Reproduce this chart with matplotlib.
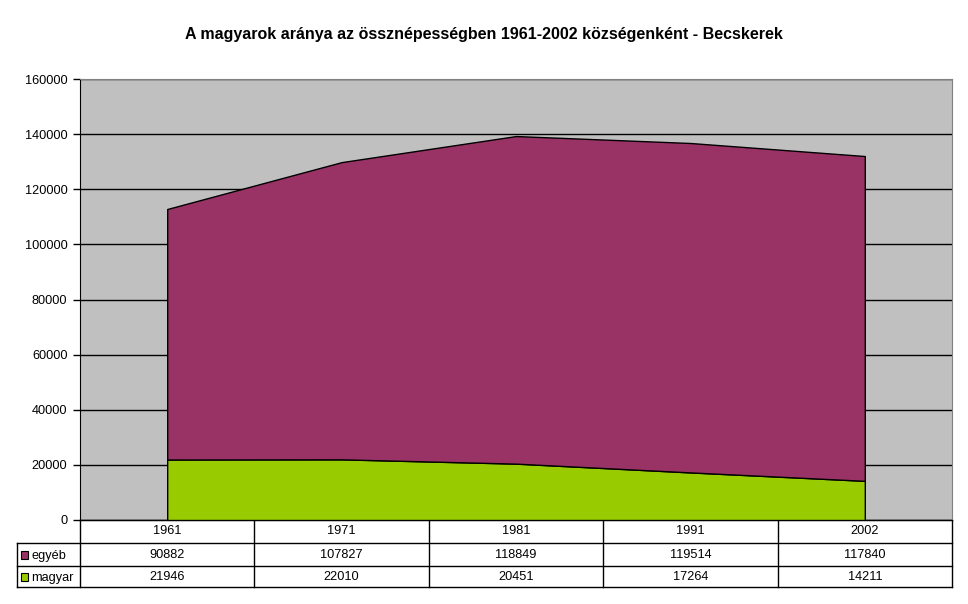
import numpy as np
import matplotlib.pyplot as plt
from matplotlib.patches import Rectangle
from matplotlib.transforms import blended_transform_factory

plt.rcParams['font.family'] = ['Liberation Sans', 'DejaVu Sans']

# data
years = ['1961', '1971', '1981', '1991', '2002']
egyeb = [90882, 107827, 118849, 119514, 117840]
magyar = [21946, 22010, 20451, 17264, 14211]
series_names = ['egyéb', 'magyar']
colors = {'egyéb': '#993366', 'magyar': '#99CC00'}

W, H = 968, 604
fig = plt.figure(figsize=(W / 100, H / 100), dpi=100)
fig.patch.set_facecolor('white')

# plot area in pixels
left, right, top, bottom = 80, 952, 79, 520
ax = fig.add_axes([left / W, (H - bottom) / H, (right - left) / W, (bottom - top) / H])
ax.set_facecolor('#C0C0C0')

x = np.arange(len(years))
ax.stackplot(x, magyar, egyeb, colors=[colors['magyar'], colors['egyéb']],
             edgecolor='black', linewidth=1, zorder=3)

ax.set_xlim(-0.5, len(years) - 0.5)
ax.set_ylim(0, 160000)
ax.set_yticks(np.arange(0, 160001, 20000))
ax.yaxis.grid(True, color='black', linewidth=1, zorder=1)
ax.set_axisbelow(True)
ax.tick_params(axis='y', direction='out', length=5, width=1, labelsize=9.2, pad=4)
ax.set_xticks([])
for s in ['top', 'right']:
    ax.spines[s].set_color('#808080')
ax.spines['left'].set_color('black')
ax.spines['bottom'].set_color('black')

fig.text(0.5, 1 - 35 / H, 'A magyarok aránya az össznépességben 1961-2002 községenként - Becskerek',
         ha='center', va='center', fontsize=11.5, fontweight='bold')

# data table below the plot
trans = blended_transform_factory(ax.transData, ax.transAxes)
ph = bottom - top
colw = (right - left) / len(years)   # pixels per category
row_edges_px = [0, 23, 46, 67]
row_y = [-r / ph for r in row_edges_px]
label_x = -0.5 - (left - 17) / colw
xr = len(years) - 0.5
line_kw = dict(color='black', linewidth=1, transform=trans, clip_on=False)

# horizontal lines
ax.plot([-0.5, xr], [row_y[0]] * 2, **line_kw)
for yy in row_y[1:]:
    ax.plot([label_x, xr], [yy] * 2, **line_kw)
# vertical lines
for i in range(len(years) + 1):
    ax.plot([i - 0.5] * 2, [row_y[0], row_y[3]], **line_kw)
ax.plot([label_x] * 2, [row_y[1], row_y[3]], **line_kw)

for i, yr in enumerate(years):
    ax.text(i, (row_y[0] + row_y[1]) / 2, yr, transform=trans, ha='center', va='center', fontsize=9.2)

rows = [egyeb, magyar]
sw = 8 / ph
for r, (name, vals) in enumerate(zip(series_names, rows)):
    yc = (row_y[r + 1] + row_y[r + 2]) / 2
    for i, v in enumerate(vals):
        ax.text(i, yc, str(v), transform=trans, ha='center', va='center', fontsize=9.2)
    sx = label_x + 4 / colw
    base = yc - 4.5 / ph
    ax.add_patch(Rectangle((sx, base), 7 / colw, sw,
                           facecolor=colors[name], edgecolor='black', linewidth=0.8,
                           transform=trans, clip_on=False))
    ax.text(sx + 10 / colw, base, name, transform=trans,
            ha='left', va='baseline', fontsize=9.2)

fig.savefig('out.png', dpi=100)
